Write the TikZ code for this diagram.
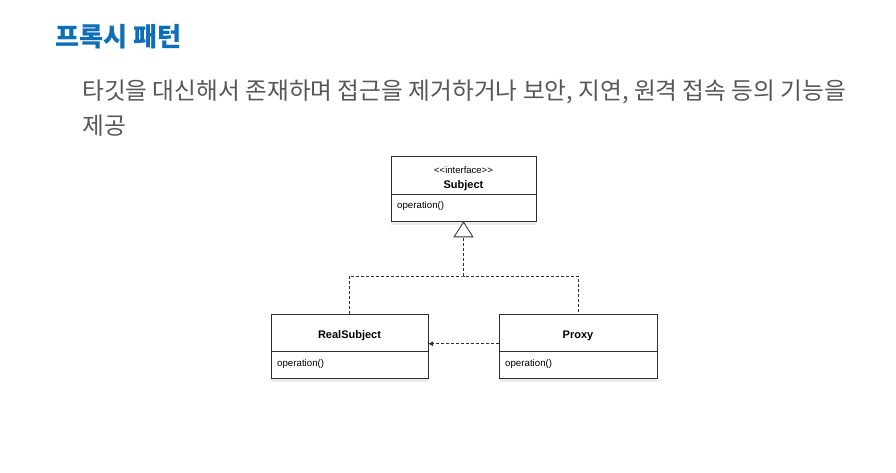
\documentclass[tikz,border=0pt]{standalone}
\usepackage{fontspec}
\setmainfont{Liberation Sans}
\newfontfamily\krfont{Noto Sans CJK KR}
\usepackage{xcolor}
\usetikzlibrary{
  arrows.meta, positioning, shadows
}
\definecolor{blueA}{HTML}{0E6EB8}
\definecolor{grayA}{HTML}{575757}
\definecolor{lineA}{HTML}{2E2E2E}
\tikzset{
  classhead/.style={
    draw=lineA, fill=white, line width=0.8pt, align=center, outer sep=0pt,
    minimum width=#1, minimum height=37.5pt, inner sep=0pt,
    font=\fontsize{11}{14.5}\selectfont
  },
  classbody/.style={
    draw=lineA, fill=white, line width=0.8pt, outer sep=0pt,
    minimum width=#1, minimum height=27pt, inner sep=0pt,
    drop shadow={shadow xshift=0pt, shadow yshift=-3.5pt, opacity=0.08, fill=black}
  },
  optext/.style={inner sep=0pt, font=\fontsize{9.7}{11}\selectfont},
  dashline/.style={draw=lineA, line width=0.8pt, dash pattern=on 3pt off 2pt}
}

\begin{document}
\begin{tikzpicture}[x=1pt, y=-1pt, node distance=0pt]
  \useasboundingbox (0,0) rectangle (896,472);
  % heading
  \node[anchor=west, inner sep=0pt, text=blueA,
    font=\krfont\bfseries\fontsize{26.2}{30}\selectfont] (title) at (55,37) {프록시 패턴};
  \node[anchor=north west, inner sep=0pt, align=left, text=grayA,
    font=\krfont\fontsize{23.7}{35}\selectfont] (desc) at (82,80) {
    타깃을 대신해서 존재하며 접근을 제거하거나 보안, 지연, 원격 접속 등의 기능을\\
    제공
  };
  % classes
  \node[classhead=145pt, text height=25pt, text depth=0pt] (subjhead) at (463.5,175.5) {
    {\fontsize{9.5}{14.5}\selectfont <{}<interface>{}>}\\ \textbf{Subject}
  };
  \node[classbody=145pt, below=of subjhead] (subjbody) {};
  \node[optext, below right=7.5pt and 6pt of subjbody.north west] (subjop) {operation()};

  \node[classhead=157pt, text height=10pt, text depth=0pt] (realhead) at (349.5,333) {\textbf{RealSubject}};
  \node[classbody=157pt, below=of realhead] (realbody) {};
  \node[optext, below right=7.5pt and 6pt of realbody.north west] (realop) {operation()};

  \node[classhead=158pt, text height=10pt, text depth=0pt, right=71pt of realhead] (proxyhead) {\textbf{Proxy}};
  \node[classbody=158pt, below=of proxyhead] (proxybody) {};
  \node[optext, below right=7.5pt and 6pt of proxybody.north west] (proxyop) {operation()};

  % connectors
  \coordinate (branch) at (463.5,276);
  \draw[dashline] (realhead.north) |- (branch) -| (proxyhead.north);
  \draw[dashline, -{Triangle[open, length=16pt, width=20pt]}] (branch) -- (subjbody.south);
  \draw[dashline, -{Latex[length=5pt, width=5pt]}]
    ([yshift=8pt]proxyhead.south west) -- ([yshift=8pt]realhead.south east);
\end{tikzpicture}
\end{document}
